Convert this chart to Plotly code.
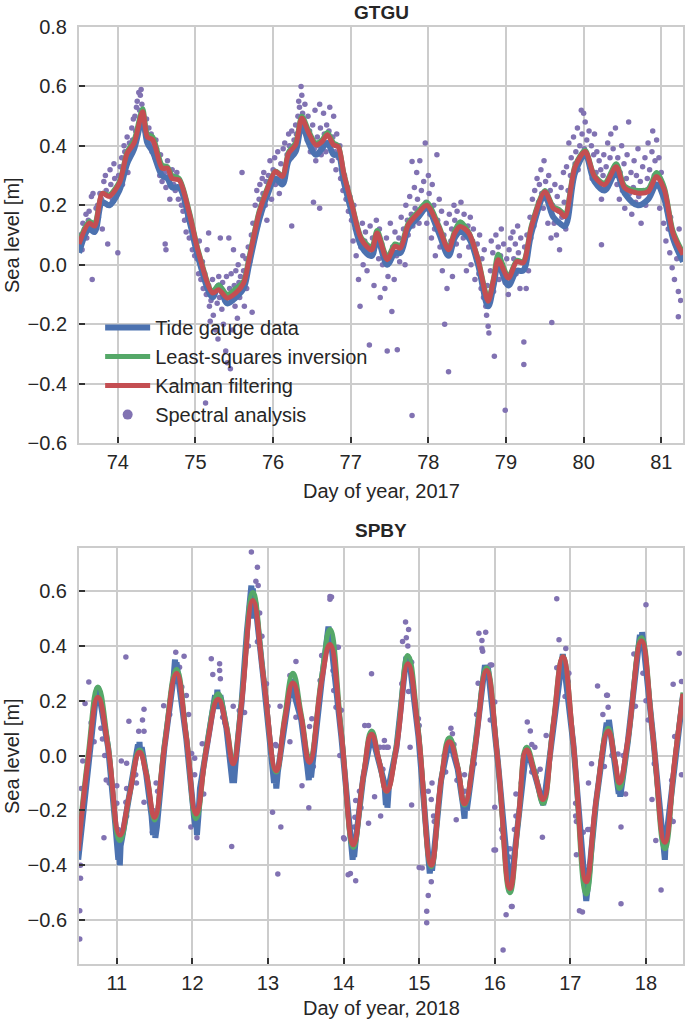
import plotly.graph_objects as go

# ---------------- GTGU (2017) ----------------
gtgu_x = [73.50, 73.63, 73.70, 73.80, 73.89, 74.02, 74.12, 74.21, 74.32, 74.38, 74.45, 74.57, 74.64, 74.70,
          74.79, 74.92, 75.04, 75.22, 75.30, 75.41, 75.52, 75.62, 75.69, 75.82, 75.92, 76.03, 76.12, 76.20,
          76.29, 76.37, 76.46, 76.55, 76.63, 76.70, 76.78, 76.84, 76.91, 77.02, 77.14, 77.27, 77.34, 77.47,
          77.57, 77.64, 77.74, 77.87, 77.98, 78.13, 78.26, 78.34, 78.41, 78.52, 78.64, 78.77, 78.84, 78.90,
          79.03, 79.14, 79.22, 79.33, 79.50, 79.61, 79.69, 79.76, 79.89, 80.02, 80.14, 80.27, 80.42, 80.53,
          80.70, 80.83, 80.94, 81.04, 81.15, 81.28]
gtgu_kalman = [0.07, 0.14, 0.13, 0.24, 0.23, 0.275, 0.375, 0.41, 0.515, 0.43, 0.42, 0.325, 0.325, 0.29,
               0.285, 0.174, 0.04, -0.095, -0.084, -0.112, -0.095, -0.062, 0.017, 0.174, 0.25, 0.314, 0.297, 0.375,
               0.403, 0.493, 0.443, 0.403, 0.414, 0.437, 0.403, 0.397, 0.308, 0.196, 0.084, 0.05, 0.107, 0.017,
               0.062, 0.056, 0.134, 0.174, 0.20, 0.129, 0.05, 0.107, 0.129, 0.107, 0.017, -0.123, -0.05, 0.017,
               -0.045, 0.011, 0.006, 0.129, 0.246, 0.19, 0.179, 0.162, 0.33, 0.381, 0.297, 0.269, 0.33, 0.258,
               0.241, 0.246, 0.297, 0.252, 0.107, 0.034]
gtgu_lsq = [0.08, 0.145, 0.14, 0.24, 0.235, 0.28, 0.38, 0.42, 0.525, 0.44, 0.43, 0.335, 0.33, 0.30,
            0.29, 0.18, 0.045, -0.09, -0.068, -0.10, -0.08, -0.055, 0.025, 0.18, 0.255, 0.315, 0.30, 0.38,
            0.41, 0.50, 0.45, 0.41, 0.42, 0.445, 0.41, 0.40, 0.31, 0.20, 0.09, 0.06, 0.115, 0.025,
            0.07, 0.065, 0.14, 0.18, 0.21, 0.135, 0.055, 0.115, 0.145, 0.11, 0.02, -0.115, -0.045, 0.035,
            -0.04, 0.015, 0.01, 0.135, 0.25, 0.195, 0.185, 0.17, 0.335, 0.385, 0.30, 0.275, 0.34, 0.265,
            0.25, 0.255, 0.31, 0.26, 0.115, 0.04]
gtgu_gauge = [0.04, 0.12, 0.11, 0.21, 0.20, 0.25, 0.34, 0.39, 0.49, 0.41, 0.38, 0.30, 0.29, 0.26,
              0.26, 0.15, 0.02, -0.11, -0.07, -0.13, -0.11, -0.08, 0.00, 0.15, 0.23, 0.29, 0.27, 0.35,
              0.38, 0.47, 0.41, 0.37, 0.39, 0.41, 0.37, 0.37, 0.28, 0.17, 0.06, 0.03, 0.09, 0.00,
              0.04, 0.04, 0.12, 0.16, 0.19, 0.11, 0.03, 0.09, 0.11, 0.09, 0.00, -0.14, -0.07, 0.00,
              -0.07, -0.02, -0.02, 0.11, 0.23, 0.16, 0.14, 0.13, 0.31, 0.37, 0.28, 0.25, 0.31, 0.24,
              0.20, 0.22, 0.27, 0.22, 0.09, 0.01]
gtgu_spectral = [
    (73.52, 0.10), (73.54, 0.05), (73.55, 0.14), (73.57, 0.12), (73.59, 0.17), (73.60, 0.09), (73.62, 0.15),
    (73.63, 0.18), (73.65, 0.13), (73.66, 0.23), (73.67, -0.05), (73.68, 0.24), (73.70, 0.11), (73.72, 0.19),
    (73.74, 0.20), (73.75, 0.16), (73.77, 0.24), (73.79, 0.22), (73.80, 0.12), (73.82, 0.28), (73.84, 0.30),
    (73.85, 0.25), (73.87, 0.07), (73.88, 0.20), (73.90, 0.32), (73.91, 0.27), (73.93, 0.22), (73.95, 0.34),
    (73.96, 0.29), (73.98, 0.25), (74.00, 0.04), (74.01, 0.30),
    (74.03, 0.33), (74.05, 0.36), (74.06, 0.27), (74.08, 0.40), (74.09, 0.38), (74.10, 0.35), (74.12, 0.43),
    (74.13, 0.31), (74.15, 0.41), (74.16, 0.38), (74.18, 0.46), (74.19, 0.42), (74.20, 0.49), (74.22, 0.50),
    (74.23, 0.45), (74.24, 0.53), (74.25, 0.55), (74.27, 0.58), (74.28, 0.52), (74.29, 0.57), (74.30, 0.59),
    (74.31, 0.54), (74.33, 0.50), (74.34, 0.47), (74.35, 0.45), (74.37, 0.49), (74.38, 0.43), (74.40, 0.46),
    (74.41, 0.41), (74.43, 0.44), (74.44, 0.38), (74.46, 0.40), (74.48, 0.36), (74.49, 0.42), (74.50, 0.39),
    (74.52, 0.34), (74.54, 0.30), (74.55, 0.37), (74.57, 0.28), (74.58, 0.33), (74.60, 0.31), (74.61, 0.07),
    (74.62, 0.05), (74.62, 0.26), (74.64, 0.35), (74.66, 0.30), (74.67, 0.22), (74.69, 0.29), (74.70, 0.32),
    (74.72, 0.27), (74.74, 0.25), (74.76, 0.31), (74.78, 0.22), (74.80, 0.26), (74.82, 0.20), (74.84, 0.18),
    (74.86, 0.15), (74.88, 0.11), (74.90, 0.16), (74.92, 0.09), (74.94, 0.13), (74.96, 0.05), (74.97, 0.10),
    (74.99, 0.03),
    (75.02, 0.02), (75.04, -0.03), (75.05, 0.08), (75.07, -0.05), (75.09, 0.01), (75.10, -0.08), (75.12, -0.03),
    (75.13, -0.465), (75.14, -0.10), (75.15, 0.05), (75.17, 0.107), (75.17, -0.07), (75.18, -0.14), (75.19, -0.19),
    (75.20, -0.12), (75.22, -0.05), (75.23, -0.17), (75.24, -0.10), (75.26, -0.22), (75.27, -0.08), (75.28, -0.13),
    (75.29, -0.25), (75.30, -0.04), (75.31, -0.11), (75.32, 0.09), (75.34, -0.15), (75.35, -0.06), (75.36, -0.20),
    (75.38, -0.12), (75.39, -0.29), (75.40, -0.04), (75.41, -0.33), (75.42, -0.10), (75.43, 0.09), (75.44, -0.08),
    (75.45, -0.35), (75.46, -0.03), (75.47, -0.12), (75.48, -0.22), (75.49, 0.05), (75.50, -0.07), (75.51, -0.14),
    (75.52, -0.02), (75.53, -0.09), (75.54, -0.18), (75.55, 0.00), (75.56, -0.06), (75.57, -0.11), (75.58, -0.04),
    (75.60, 0.31), (75.60, -0.08), (75.61, 0.03), (75.62, -0.02), (75.63, -0.14), (75.65, 0.02), (75.66, -0.08),
    (75.68, 0.06), (75.70, 0.01), (75.72, 0.10), (75.73, -0.16),
    (75.74, 0.14), (75.76, 0.09), (75.77, 0.20), (75.79, 0.25), (75.80, 0.13), (75.82, 0.22), (75.83, 0.27),
    (75.84, 0.17), (75.86, 0.29), (75.87, 0.24), (75.88, 0.31), (75.90, 0.20), (75.91, 0.28), (75.92, 0.15),
    (75.94, 0.30), (75.95, 0.26), (75.96, 0.35), (75.98, 0.22), (75.99, 0.29), (76.00, 0.32), (76.02, 0.36),
    (76.03, 0.27), (76.05, 0.31), (76.06, 0.38), (76.08, 0.24), (76.10, 0.34), (76.11, 0.29), (76.13, 0.39),
    (76.15, 0.41), (76.16, 0.33), (76.18, 0.37), (76.20, 0.44), (76.21, 0.40), (76.23, 0.36), (76.24, 0.13),
    (76.24, 0.45), (76.27, 0.42), (76.29, 0.47), (76.30, 0.44), (76.32, 0.50), (76.33, 0.55), (76.34, 0.53),
    (76.36, 0.60), (76.37, 0.57), (76.38, 0.51), (76.40, 0.48), (76.41, 0.54), (76.42, 0.46), (76.44, 0.42),
    (76.45, 0.50),
    (76.47, 0.45), (76.48, 0.38), (76.50, 0.41), (76.51, 0.47), (76.52, 0.21), (76.53, 0.39), (76.54, 0.52),
    (76.55, 0.35), (76.57, 0.43), (76.58, 0.40), (76.60, 0.54), (76.60, 0.19), (76.61, 0.46), (76.62, 0.37),
    (76.64, 0.42), (76.65, 0.51), (76.66, 0.44), (76.68, 0.38), (76.69, 0.47), (76.70, 0.41), (76.72, 0.45),
    (76.73, 0.53), (76.74, 0.40), (76.76, 0.35), (76.77, 0.43), (76.78, 0.50), (76.80, 0.38), (76.81, 0.32),
    (76.82, 0.44), (76.84, 0.36), (76.86, 0.40), (76.87, 0.29), (76.89, 0.33), (76.90, 0.25), (76.92, 0.30),
    (76.94, 0.22), (76.96, 0.26), (76.97, 0.18), (76.99, 0.23),
    (77.01, 0.15), (77.03, 0.08), (77.04, 0.20), (77.06, 0.12), (77.07, 0.03), (77.09, 0.10), (77.10, -0.05),
    (77.12, -0.14), (77.13, 0.06), (77.15, 0.14), (77.16, 0.00), (77.18, 0.08), (77.19, 0.11), (77.21, -0.02),
    (77.22, 0.05), (77.24, -0.27), (77.25, 0.13), (77.27, 0.03), (77.28, 0.09), (77.30, -0.07), (77.31, 0.06),
    (77.33, 0.15), (77.34, 0.10), (77.36, 0.02), (77.37, 0.12), (77.38, -0.11), (77.40, 0.07), (77.41, 0.00),
    (77.43, 0.04), (77.44, -0.08), (77.46, 0.09), (77.47, -0.29), (77.48, -0.04), (77.50, 0.01), (77.51, 0.14),
    (77.53, -0.157), (77.54, 0.06), (77.56, -0.05), (77.57, 0.11), (77.59, 0.03), (77.60, -0.286), (77.62, 0.09),
    (77.63, 0.01), (77.65, 0.16), (77.66, 0.05), (77.68, 0.12), (77.70, 0.00), (77.71, 0.20), (77.73, 0.15),
    (77.74, 0.10), (77.76, 0.23), (77.78, 0.17), (77.79, -0.507), (77.79, 0.347), (77.80, 0.13),
    (77.82, 0.26), (77.83, 0.19), (77.85, 0.31), (77.86, 0.22), (77.88, 0.14), (77.89, 0.35), (77.91, 0.25),
    (77.92, 0.18), (77.94, 0.28), (77.96, 0.41), (77.97, 0.21), (77.98, 0.14), (78.00, 0.30), (78.01, 0.24),
    (78.02, 0.17), (78.04, 0.09), (78.05, 0.27), (78.07, 0.20), (78.08, 0.12), (78.09, 0.03), (78.11, 0.37),
    (78.12, 0.15), (78.14, 0.22), (78.15, 0.06), (78.17, 0.18), (78.18, -0.02), (78.20, 0.10), (78.21, -0.20),
    (78.23, 0.14), (78.24, -0.08), (78.25, 0.05), (78.26, -0.36), (78.27, 0.17), (78.29, 0.08), (78.30, 0.12),
    (78.31, -0.04), (78.33, 0.20), (78.34, 0.15), (78.36, 0.07), (78.37, 0.18), (78.39, 0.12), (78.40, 0.03),
    (78.42, 0.21), (78.43, 0.14), (78.45, 0.09), (78.46, 0.17), (78.48, 0.11), (78.49, -0.02), (78.51, 0.13),
    (78.52, 0.06), (78.54, 0.16), (78.55, 0.00), (78.57, 0.08), (78.58, 0.12), (78.60, -0.05),
    (78.62, 0.03), (78.63, 0.07), (78.65, -0.03), (78.66, 0.10), (78.68, -0.08), (78.69, 0.02), (78.71, -0.11),
    (78.72, 0.05), (78.74, -0.14), (78.75, -0.17), (78.76, -0.07), (78.77, -0.207), (78.78, -0.23), (78.80, -0.02),
    (78.81, 0.08), (78.83, 0.04), (78.84, -0.09), (78.85, -0.308), (78.87, 0.10), (78.88, 0.00), (78.90, 0.06),
    (78.91, -0.05), (78.93, 0.03), (78.94, 0.12), (78.96, -0.02), (78.97, 0.07), (78.99, -0.06), (78.99, -0.49),
    (79.01, 0.02), (79.03, -0.10), (79.04, 0.05), (79.06, 0.09), (79.07, -0.04), (79.09, 0.11), (79.10, 0.02),
    (79.12, 0.07), (79.13, -0.03), (79.15, 0.13), (79.16, 0.04), (79.18, -0.08), (79.19, 0.09), (79.21, 0.01),
    (79.23, -0.336), (79.23, -0.26), (79.24, 0.06), (79.26, -0.08), (79.27, 0.10), (79.29, -0.02),
    (79.31, 0.16), (79.32, 0.09), (79.34, 0.22), (79.36, 0.13), (79.37, 0.25), (79.39, 0.18), (79.40, 0.29),
    (79.42, 0.21), (79.43, 0.27), (79.45, 0.32), (79.46, 0.24), (79.48, 0.19), (79.49, 0.35), (79.51, 0.28),
    (79.52, 0.22), (79.54, 0.14), (79.55, 0.30), (79.57, 0.25), (79.58, 0.09), (79.59, -0.194), (79.60, 0.20),
    (79.62, 0.14), (79.63, 0.27), (79.65, 0.10), (79.66, 0.23), (79.68, 0.18), (79.69, 0.05), (79.71, 0.26),
    (79.72, 0.16), (79.74, 0.31), (79.75, 0.21), (79.77, 0.12), (79.78, 0.33), (79.80, 0.25), (79.81, 0.41),
    (79.83, 0.30), (79.84, 0.36), (79.86, 0.28), (79.87, 0.43), (79.89, 0.34), (79.90, 0.38), (79.92, 0.46),
    (79.93, 0.32), (79.95, 0.40), (79.96, 0.36), (79.97, 0.52), (79.98, 0.44), (80.00, 0.51), (80.01, 0.39),
    (80.02, 0.48),
    (80.04, 0.42), (80.05, 0.36), (80.07, 0.45), (80.08, 0.33), (80.10, 0.40), (80.11, 0.29), (80.13, 0.37),
    (80.14, 0.44), (80.16, 0.31), (80.17, 0.38), (80.19, 0.27), (80.20, 0.35), (80.22, 0.32), (80.23, 0.067),
    (80.23, 0.22), (80.25, 0.30), (80.26, 0.37), (80.28, 0.26), (80.29, 0.33), (80.31, 0.41), (80.32, 0.28),
    (80.34, 0.36), (80.35, 0.44), (80.37, 0.30), (80.38, 0.39), (80.40, 0.33), (80.41, 0.46), (80.43, 0.27),
    (80.44, 0.36), (80.46, 0.22), (80.47, 0.31), (80.49, 0.40), (80.50, 0.25), (80.52, 0.34), (80.53, 0.19),
    (80.55, 0.29), (80.56, 0.37), (80.58, 0.48), (80.59, 0.24), (80.61, 0.31), (80.62, 0.17), (80.64, 0.26),
    (80.65, 0.35), (80.67, 0.21), (80.68, 0.30), (80.70, 0.39), (80.71, 0.23), (80.73, 0.28), (80.74, 0.14),
    (80.76, 0.33), (80.77, 0.25), (80.79, 0.36), (80.80, 0.20), (80.82, 0.29), (80.83, 0.41), (80.85, 0.32),
    (80.86, 0.24), (80.88, 0.38), (80.89, 0.45), (80.91, 0.30), (80.92, 0.35), (80.94, 0.42), (80.95, 0.27),
    (80.97, 0.36), (80.98, 0.19), (81.00, 0.31), (81.02, 0.25), (81.03, 0.14), (81.05, 0.22), (81.06, 0.08),
    (81.08, 0.18), (81.09, 0.12), (81.11, 0.04), (81.12, 0.16), (81.14, -0.01), (81.15, 0.10), (81.17, -0.05),
    (81.18, 0.07), (81.20, 0.02), (81.22, -0.175), (81.22, -0.09), (81.23, 0.12), (81.25, -0.12), (81.26, 0.05),
]

# ---------------- SPBY (2018) ----------------
spby_x = [10.49, 10.62, 10.75, 10.885, 11.04, 11.17, 11.30, 11.39, 11.50, 11.63, 11.79, 11.92, 12.05, 12.19,
          12.34, 12.45, 12.54, 12.65, 12.80, 12.94, 13.11, 13.22, 13.33, 13.44, 13.55, 13.71, 13.82, 13.97,
          14.13, 14.26, 14.37, 14.47, 14.57, 14.70, 14.85, 14.99, 15.16, 15.29, 15.40, 15.51, 15.60, 15.74,
          15.89, 16.04, 16.20, 16.31, 16.42, 16.53, 16.64, 16.77, 16.90, 17.04, 17.21, 17.34, 17.50, 17.59,
          17.65, 17.76, 17.94, 18.09, 18.25, 18.38, 18.49]
spby_kalman = [-0.347, -0.018, 0.213, 0.03, -0.29, -0.14, 0.012, -0.067, -0.225, 0.03, 0.30, 0.067, -0.213, 0.03,
               0.205, 0.103, -0.03, 0.189, 0.565, 0.286, -0.055, 0.128, 0.265, 0.14, -0.025, 0.274, 0.405, 0.079,
               -0.325, -0.079, 0.078, -0.02, -0.13, 0.03, 0.335, 0.079, -0.40, -0.091, 0.05, -0.043, -0.176, 0.03,
               0.31, -0.018, -0.485, -0.237, 0.02, -0.067, -0.16, 0.103, 0.36, 0.043, -0.46, -0.164, 0.09, -0.018,
               -0.10, 0.055, 0.418, 0.079, -0.316, -0.018, 0.225]
spby_lsq = [-0.33, 0.0, 0.25, 0.04, -0.31, -0.14, 0.02, -0.06, -0.235, 0.04, 0.315, 0.07, -0.23, 0.04,
            0.225, 0.11, -0.02, 0.20, 0.595, 0.29, -0.06, 0.14, 0.30, 0.15, -0.01, 0.29, 0.46, 0.09,
            -0.335, -0.08, 0.09, -0.02, -0.13, 0.04, 0.365, 0.09, -0.405, -0.09, 0.065, -0.04, -0.18, 0.04,
            0.32, -0.02, -0.50, -0.24, 0.03, -0.06, -0.175, 0.11, 0.36, 0.04, -0.505, -0.17, 0.10, -0.02,
            -0.12, 0.05, 0.43, 0.08, -0.34, -0.02, 0.23]
spby_gauge_x = [10.49, 10.51, 10.62, 10.70, 10.73, 10.75, 10.77, 10.80, 10.885, 10.98, 11.01, 11.02, 11.03, 11.04,
                11.05, 11.07, 11.17, 11.26, 11.28, 11.29, 11.30, 11.31, 11.33, 11.39, 11.46, 11.48, 11.50, 11.51,
                11.53, 11.63, 11.75, 11.77, 11.78, 11.79, 11.81, 11.92, 12.02, 12.04, 12.05, 12.06, 12.08, 12.10,
                12.19, 12.30, 12.32, 12.33, 12.35, 12.37, 12.45, 12.52, 12.53, 12.54, 12.55, 12.57, 12.65, 12.72,
                12.78, 12.79, 12.80, 12.81, 12.83, 12.94, 13.06, 13.08, 13.10, 13.11, 13.13, 13.22, 13.30, 13.32,
                13.33, 13.35, 13.44, 13.52, 13.54, 13.55, 13.57, 13.71, 13.80, 13.82, 13.84, 13.97, 14.10, 14.12,
                14.13, 14.14, 14.16, 14.26, 14.37, 14.47, 14.54, 14.56, 14.57, 14.58, 14.60, 14.70, 14.83, 14.85,
                14.87, 14.99, 15.12, 15.14, 15.16, 15.17, 15.19, 15.29, 15.40, 15.51, 15.58, 15.60, 15.61, 15.63,
                15.74, 15.87, 15.89, 15.91, 16.04, 16.18, 16.20, 16.22, 16.31, 16.42, 16.53, 16.62, 16.64, 16.66,
                16.77, 16.90, 17.04, 17.19, 17.21, 17.23, 17.34, 17.48, 17.50, 17.51, 17.59, 17.64, 17.65, 17.66,
                17.76, 17.92, 17.94, 17.95, 18.09, 18.23, 18.25, 18.26, 18.38, 18.49]
spby_gauge = [-0.38, -0.33, -0.02, 0.19, 0.23, 0.25, 0.22, 0.15, 0.03, -0.25, -0.33, -0.38, -0.32, -0.40,
              -0.33, -0.30, -0.14, 0.0, 0.04, 0.0, 0.05, 0.01, 0.03, -0.07, -0.22, -0.29, -0.24, -0.30,
              -0.26, 0.03, 0.28, 0.35, 0.30, 0.34, 0.29, 0.06, -0.22, -0.26, -0.22, -0.29, -0.22, -0.12,
              0.03, 0.22, 0.18, 0.24, 0.17, 0.22, 0.10, -0.06, -0.10, -0.04, -0.10, -0.03, 0.19, 0.45,
              0.62, 0.55, 0.61, 0.50, 0.56, 0.28, -0.06, -0.10, -0.07, -0.12, -0.06, 0.12, 0.26, 0.23,
              0.28, 0.22, 0.13, -0.04, -0.09, -0.02, -0.08, 0.27, 0.47, 0.44, 0.40, 0.07, -0.33, -0.38,
              -0.33, -0.37, -0.31, -0.08, 0.08, -0.02, -0.10, -0.18, -0.12, -0.19, -0.11, 0.03, 0.36, 0.32,
              0.35, 0.07, -0.38, -0.43, -0.38, -0.42, -0.37, -0.09, 0.06, -0.05, -0.18, -0.23, -0.17, -0.20,
              0.03, 0.33, 0.30, 0.32, -0.02, -0.47, -0.50, -0.46, -0.24, 0.03, -0.07, -0.17, -0.18, -0.15,
              0.10, 0.37, 0.04, -0.49, -0.53, -0.48, -0.17, 0.12, 0.08, 0.13, -0.02, -0.14, -0.10, -0.15,
              0.05, 0.44, 0.41, 0.45, 0.08, -0.33, -0.38, -0.32, -0.02, 0.22]
spby_spectral = [
    (10.51, -0.669), (10.51, -0.566), (10.52, -0.447), (10.52, -0.40), (10.53, -0.12), (10.55, -0.02),
    (10.58, 0.19), (10.63, 0.268), (10.66, 0.12), (10.70, 0.05), (10.79, 0.10), (10.81, 0.06), (10.83, -0.30),
    (10.84, 0.0), (10.86, -0.089), (10.90, -0.10), (11.00, -0.11), (11.00, -0.174), (11.02, -0.27),
    (11.06, -0.02), (11.12, 0.359), (11.13, -0.028), (11.13, -0.12), (11.12, -0.17), (11.13, -0.22),
    (11.16, 0.125), (11.25, -0.07), (11.26, -0.10), (11.29, 0.089), (11.34, 0.13), (11.36, 0.169),
    (11.36, 0.089), (11.36, -0.17), (11.47, -0.28), (11.48, -0.20), (11.52, -0.10), (11.54, -0.13),
    (11.62, 0.182), (11.70, 0.15), (11.78, 0.377), (11.83, 0.322), (11.89, 0.362), (11.86, 0.25),
    (11.92, 0.219), (11.95, 0.15), (11.98, -0.26), (11.99, 0.008), (12.03, -0.01), (12.03, -0.07),
    (12.06, -0.30), (12.13, 0.043), (12.15, -0.14), (12.25, 0.353), (12.27, 0.296), (12.36, 0.335),
    (12.36, 0.31), (12.37, 0.28), (12.40, 0.14), (12.43, 0.12), (12.52, -0.332), (12.54, 0.18),
    (12.62, 0.164), (12.69, 0.157), (12.74, 0.40), (12.78, 0.742), (12.84, 0.636), (12.86, 0.687),
    (12.87, 0.62), (12.89, 0.52), (12.92, 0.435), (12.86, 0.415), (12.98, 0.262), (13.00, 0.18),
    (13.06, -0.207), (13.10, 0.04), (13.11, 0.036), (13.13, -0.432), (13.16, 0.18), (13.17, -0.26),
    (13.29, 0.05), (13.29, 0.292), (13.37, 0.343), (13.37, 0.14), (13.45, -0.11), (13.54, -0.19),
    (13.55, 0.106), (13.58, 0.134), (13.60, -0.04), (13.69, 0.274), (13.71, 0.365), (13.82, 0.58),
    (13.82, 0.57), (13.84, 0.578), (13.86, 0.31), (13.87, 0.32), (13.88, 0.292), (13.87, 0.237),
    (13.90, 0.176), (13.91, 0.395), (13.93, 0.395), (13.95, 0.0), (13.97, 0.165), (14.00, -0.30),
    (14.01, -0.304), (14.06, -0.435), (14.09, -0.43), (14.15, -0.225), (14.14, -0.26), (14.16, -0.456),
    (14.16, -0.164), (14.21, -0.13), (14.23, -0.19), (14.28, 0.11), (14.33, 0.11), (14.33, -0.247),
    (14.37, 0.298), (14.41, -0.15), (14.48, 0.03), (14.49, -0.22), (14.52, -0.05), (14.53, 0.03),
    (14.54, 0.055), (14.57, 0.03), (14.59, 0.03), (14.77, 0.262), (14.78, 0.416), (14.82, 0.487),
    (14.83, 0.43), (14.85, 0.40), (14.86, 0.46), (14.86, 0.234), (14.88, 0.03), (14.90, 0.34),
    (14.90, -0.18), (14.99, 0.134), (15.00, 0.11), (15.00, -0.408), (15.04, -0.41), (15.10, -0.568),
    (15.10, -0.61), (15.12, -0.51), (15.12, -0.13), (15.16, -0.46), (15.16, -0.16), (15.17, -0.10),
    (15.19, -0.22), (15.20, -0.24), (15.33, 0.0), (15.35, -0.06), (15.42, 0.10), (15.44, 0.08),
    (15.46, 0.04), (15.49, -0.234), (15.50, -0.09), (15.54, -0.10), (15.60, -0.07), (15.60, -0.13),
    (15.73, -0.03), (15.76, 0.15), (15.78, 0.264), (15.79, 0.446), (15.83, 0.42), (15.83, 0.39),
    (15.84, 0.38), (15.88, 0.45), (15.94, 0.33), (15.96, 0.33), (15.94, 0.13), (16.00, 0.195),
    (16.00, -0.188), (15.99, -0.344), (16.01, -0.344), (16.09, -0.27), (16.10, -0.30), (16.11, -0.28),
    (16.11, -0.709), (16.15, -0.58), (16.17, -0.34), (16.20, -0.34), (16.19, -0.37), (16.22, -0.55),
    (16.23, -0.55), (16.26, -0.27), (16.28, -0.22), (16.28, -0.14), (16.35, -0.10), (16.38, 0.0),
    (16.43, 0.122), (16.47, 0.09), (16.49, 0.04), (16.53, 0.03), (16.49, -0.06), (16.55, -0.06),
    (16.60, -0.05), (16.63, -0.298), (16.68, 0.073), (16.82, 0.572), (16.85, 0.422), (16.82, 0.32),
    (16.93, 0.215), (16.94, 0.39), (16.97, 0.27), (16.98, 0.30), (17.07, -0.174), (17.07, -0.22),
    (17.08, -0.24), (17.08, -0.362), (17.12, -0.566), (17.16, -0.57), (17.17, -0.28), (17.23, -0.27),
    (17.25, -0.27), (17.24, -0.10), (17.28, -0.03), (17.36, 0.254), (17.41, -0.02), (17.43, 0.15),
    (17.45, -0.04), (17.48, 0.22), (17.49, 0.22), (17.50, 0.176), (17.55, 0.0), (17.63, 0.006),
    (17.67, -0.26), (17.67, -0.54), (17.70, 0.0), (17.73, -0.14), (17.84, 0.37), (17.86, 0.18),
    (17.96, 0.30), (18.00, 0.55), (18.00, 0.2), (18.03, 0.13), (18.08, -0.16), (18.11, -0.03),
    (18.13, -0.31), (18.20, -0.49), (18.32, -0.23), (18.36, -0.24), (18.34, -0.09), (18.36, 0.26),
    (18.38, 0.07), (18.44, 0.373), (18.47, 0.27), (18.47, -0.07),
]

top_yticks = [-0.6, -0.4, -0.2, 0.0, 0.2, 0.4, 0.6, 0.8]
bottom_yticks = [-0.6, -0.4, -0.2, 0.0, 0.2, 0.4, 0.6]
top_xticks = [74, 75, 76, 77, 78, 79, 80, 81]
bottom_xticks = [11, 12, 13, 14, 15, 16, 17, 18]

BLUE, GREEN, RED, PURPLE = "#4C72B0", "#55A868", "#C44E52", "#8172B2"
FONT = "Liberation Sans, Arial, sans-serif"
TXT = "#262626"

fig = go.Figure()


def add_panel(xa, ya, gx, gy, gshape, lx, ly, kx, ky, smooth, spec, legend):
    sx = [p[0] for p in spec]
    sy = [p[1] for p in spec]
    fig.add_trace(go.Scatter(x=sx, y=sy, mode="markers", xaxis=xa, yaxis=ya,
                             marker=dict(color=PURPLE, size=5.5, line=dict(width=0)),
                             name="Spectral analysis", showlegend=False))
    fig.add_trace(go.Scatter(x=gx, y=gy, mode="lines", xaxis=xa, yaxis=ya,
                             line=dict(color=BLUE, width=6, shape=gshape), name="Tide gauge data",
                             showlegend=legend, legendrank=1))
    fig.add_trace(go.Scatter(x=lx, y=ly, mode="lines", xaxis=xa, yaxis=ya,
                             line=dict(color=GREEN, width=5, shape="spline", smoothing=smooth),
                             name="Least-squares inversion", showlegend=legend, legendrank=2))
    fig.add_trace(go.Scatter(x=kx, y=ky, mode="lines", xaxis=xa, yaxis=ya,
                             line=dict(color=RED, width=5, shape="spline", smoothing=smooth),
                             name="Kalman filtering", showlegend=legend, legendrank=3))


add_panel("x", "y", gtgu_x, gtgu_gauge, "spline", gtgu_x, gtgu_lsq, gtgu_x, gtgu_kalman, 0.8,
          gtgu_spectral, True)
add_panel("x2", "y2", spby_gauge_x, spby_gauge, "linear", spby_x, spby_lsq, spby_x, spby_kalman, 1.3,
          spby_spectral, False)

# legend-only entry for the spectral dots (larger legend marker)
fig.add_trace(go.Scatter(x=[None], y=[None], mode="markers", xaxis="x", yaxis="y",
                         marker=dict(color=PURPLE, size=10), name="Spectral analysis",
                         showlegend=True, legendrank=4))

axis_common = dict(showgrid=True, gridcolor="#cccccc", gridwidth=1.5, automargin=False,
                   showline=True, linecolor="#cccccc", linewidth=2, mirror=True,
                   ticks="inside", ticklen=6, tickwidth=1.5, tickcolor="#333333",
                   zeroline=False, tickfont=dict(family=FONT, size=20, color=TXT))

fig.update_layout(
    width=685, height=1022,
    margin=dict(l=79, r=2, t=27, b=58, autoexpand=False),
    paper_bgcolor="white", plot_bgcolor="white",
    font=dict(family=FONT, size=20, color=TXT),
    showlegend=True,
    legend=dict(x=0.035, y=0.70, xanchor="left", yanchor="top", bgcolor="rgba(0,0,0,0)",
                itemwidth=45,
                font=dict(family=FONT, size=20, color=TXT), tracegroupgap=0),
    xaxis=dict(domain=[0, 1], anchor="y", range=[73.5, 81.28], tickvals=top_xticks,
               ticklabelstandoff=0, **axis_common),
    yaxis=dict(domain=[0.556, 1], anchor="x", range=[-0.6, 0.8], tickvals=top_yticks,
               tickformat=".1f", ticklabelstandoff=6, **axis_common),
    xaxis2=dict(domain=[0, 1], anchor="y2", range=[10.5, 18.49], tickvals=bottom_xticks,
                ticklabelstandoff=0, **axis_common),
    yaxis2=dict(domain=[0, 0.444], anchor="x2", range=[-0.76, 0.757], tickvals=bottom_yticks,
                tickformat=".1f", ticklabelstandoff=6, **axis_common),
    annotations=[
        dict(text="<b>GTGU</b>", x=0.5, y=1.016, xref="paper", yref="paper", showarrow=False,
             font=dict(family=FONT, size=19, color=TXT), yanchor="middle"),
        dict(text="<b>SPBY</b>", x=0.5, y=0.463, xref="paper", yref="paper", showarrow=False,
             font=dict(family=FONT, size=19, color=TXT), yanchor="middle"),
        dict(text="Day of year, 2017", x=0.5, y=(964 - 491) / 937, xref="paper", yref="paper",
             showarrow=False, yanchor="middle", font=dict(family=FONT, size=20, color=TXT)),
        dict(text="Day of year, 2018", x=0.5, y=(964 - 1008) / 937, xref="paper", yref="paper",
             showarrow=False, yanchor="middle", font=dict(family=FONT, size=20, color=TXT)),
        dict(text="Sea level [m]", x=(12 - 79) / 604, y=(964 - 235) / 937, xref="paper", yref="paper",
             showarrow=False, textangle=-90, xanchor="center", yanchor="middle",
             font=dict(family=FONT, size=20, color=TXT)),
        dict(text="Sea level [m]", x=(12 - 79) / 604, y=(964 - 756) / 937, xref="paper", yref="paper",
             showarrow=False, textangle=-90, xanchor="center", yanchor="middle",
             font=dict(family=FONT, size=20, color=TXT)),
    ],
)

fig.write_html("out.html", config={"displayModeBar": False},
               post_script="document.body.style.margin='0px';")
